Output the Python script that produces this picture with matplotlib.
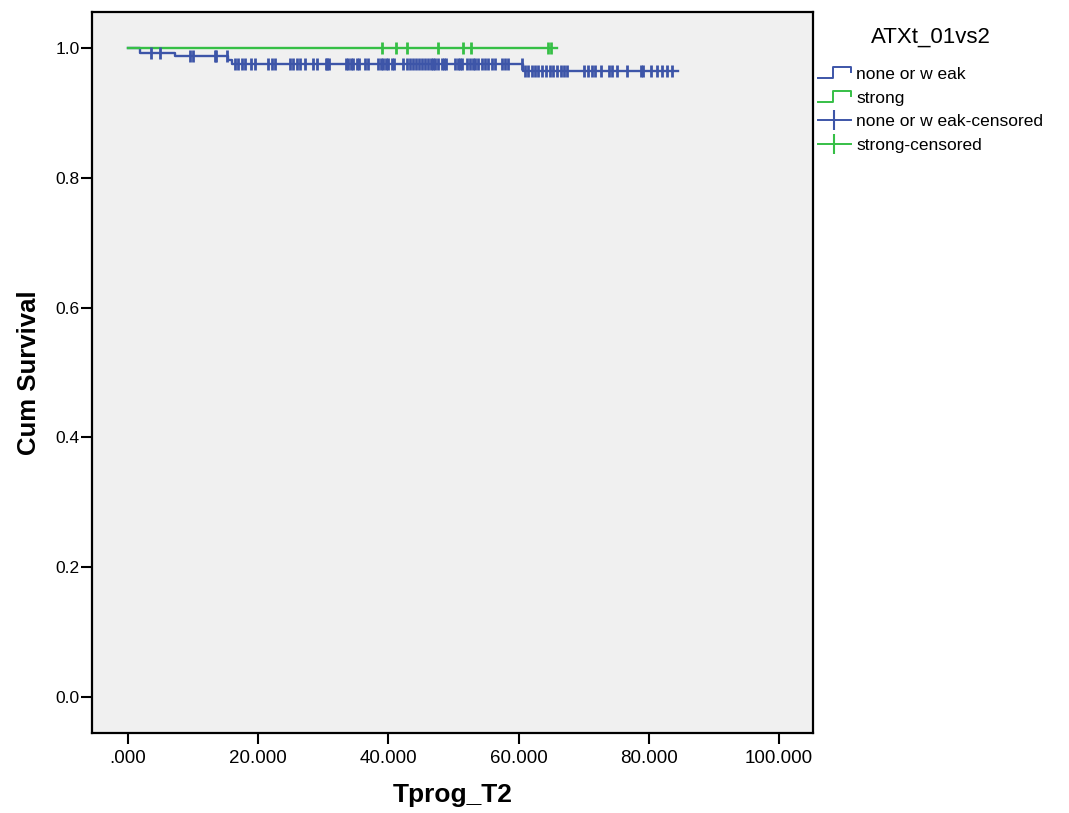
import numpy as np
import matplotlib
matplotlib.use('Agg')
import matplotlib.pyplot as plt
from matplotlib.lines import Line2D
from matplotlib.legend_handler import HandlerBase

plt.rcParams['font.family'] = ['Liberation Sans', 'DejaVu Sans']

# ── Data ──────────────────────────────────────────────────────────────────────
weak_event_t   = [0.0, 1.8, 7.2, 15.4, 16.0, 60.7]
weak_event_s   = [1.0, 0.992, 0.987, 0.982, 0.976, 0.964]
weak_end_t     = 84.5
weak_censor_t  = [3.6, 4.9, 9.5, 10.0, 13.3, 13.5, 15.2, 16.4, 16.9, 17.5, 17.9,
                  18.9, 19.5, 21.55, 22.07, 22.58, 24.88, 25.39, 25.91, 26.42,
                  27.19, 28.46, 29.08, 30.41, 30.62, 30.83, 33.49, 33.84, 34.25,
                  34.61, 35.13, 35.44, 36.41, 36.91, 38.45, 38.86, 39.22, 39.59,
                  39.98, 40.51, 40.91, 42.29, 42.81, 43.32, 43.83, 44.24, 44.70,
                  45.11, 45.62, 46.04, 46.54, 46.9, 47.16, 47.57, 48.19, 48.59,
                  48.85, 50.23, 50.65, 51.0, 51.35, 52.03, 52.53, 53.04, 53.3,
                  53.81, 54.33, 54.84, 55.35, 55.87, 56.37, 57.4, 57.91, 58.42,
                  60.47, 60.98, 61.49, 62.01, 62.52, 63.03, 63.55, 64.21, 64.82,
                  65.33, 65.95, 66.47, 66.97, 67.48, 70.1, 70.6, 71.23, 71.74,
                  72.61, 73.93, 74.4, 75.07, 76.7, 78.8, 79.16, 80.34, 81.21,
                  81.98, 82.84, 83.52]

strong_event_t  = [0.0]
strong_event_s  = [1.0]
strong_end_t    = 65.95
strong_censor_t = [38.97, 41.12, 42.9, 47.67, 51.5, 52.69, 64.5, 65.0]

group_labels = ['none or w eak', 'strong']
legend_title = 'ATXt_01vs2'
x_ticks = [0, 20, 40, 60, 80, 100]
y_ticks = [0.0, 0.2, 0.4, 0.6, 0.8, 1.0]

BLUE  = '#3d55a8'
GREEN = '#36bf46'


def surv_at(t, ev_t, ev_s):
    idx = np.searchsorted(ev_t, t, side='right') - 1
    return np.asarray(ev_s)[idx]


class StepHandler(HandlerBase):
    def create_artists(self, legend, orig, xd, yd, w, h, fontsize, trans):
        xs = [xd, xd + 0.45 * w, xd + 0.45 * w, xd + w, xd + w]
        ys = [yd + 0.05 * h, yd + 0.05 * h, yd + 0.95 * h, yd + 0.95 * h, yd + 0.55 * h]
        ln = Line2D(xs, ys, color=orig.get_color(), lw=1.4, transform=trans)
        return [ln]


# ── Figure ────────────────────────────────────────────────────────────────────
fig = plt.figure(figsize=(10.69, 8.13), dpi=100)
ax = fig.add_axes([0.0861, 0.0984, 0.6744, 0.8868])
ax.set_facecolor('#f0f0f0')

curves = [
    (weak_event_t, weak_event_s, weak_end_t, weak_censor_t, BLUE),
    (strong_event_t, strong_event_s, strong_end_t, strong_censor_t, GREEN),
]
for ev_t, ev_s, end_t, cen_t, col in curves:
    xs = list(ev_t) + [end_t]
    ys = list(ev_s) + [ev_s[-1]]
    ax.step(xs, ys, where='post', color=col, lw=1.7, zorder=3)
    ax.plot(cen_t, surv_at(np.array(cen_t), ev_t, ev_s), ls='none', marker='|',
            ms=8.5, mew=2, color=col, zorder=4)

ax.set_xlim(-5.53, 105.2)
ax.set_ylim(-0.0555, 1.0555)
ax.set_xticks(x_ticks)
ax.set_xticklabels(['.000'] + [f'{v:.3f}' for v in x_ticks[1:]])
ax.set_yticks(y_ticks)
ax.set_yticklabels([f'{v:.1f}' for v in y_ticks])
ax.tick_params(axis='both', direction='out', length=8, width=1.5, labelsize=12.5,
               colors='black')
ax.tick_params(axis='x', pad=4, labelsize=13.5)
ax.tick_params(axis='y', pad=1)
for s in ax.spines.values():
    s.set_linewidth(1.6)
    s.set_color('black')

ax.set_xlabel('Tprog_T2', fontsize=19, fontweight='bold', labelpad=12)
ax.set_ylabel('Cum Survival', fontsize=18.5, fontweight='bold', labelpad=10)

handles = [
    Line2D([], [], color=BLUE),
    Line2D([], [], color=GREEN),
    Line2D([], [], color=BLUE, marker='|', ms=14, mew=1.5, lw=1.4),
    Line2D([], [], color=GREEN, marker='|', ms=14, mew=1.5, lw=1.4),
]
labels = group_labels + [f'{g}-censored' for g in group_labels]
leg = fig.legend(handles, labels, title=legend_title, loc='upper left',
                 bbox_to_anchor=(0.7505, 0.987), frameon=False, fontsize=12.5,
                 title_fontsize=16, numpoints=1, handlelength=1.9,
                 handletextpad=0.3, labelspacing=0.5,
                 handler_map={handles[0]: StepHandler(), handles[1]: StepHandler()})
leg._legend_box.sep = 14

fig.savefig('out.png', dpi=100, facecolor='white')
